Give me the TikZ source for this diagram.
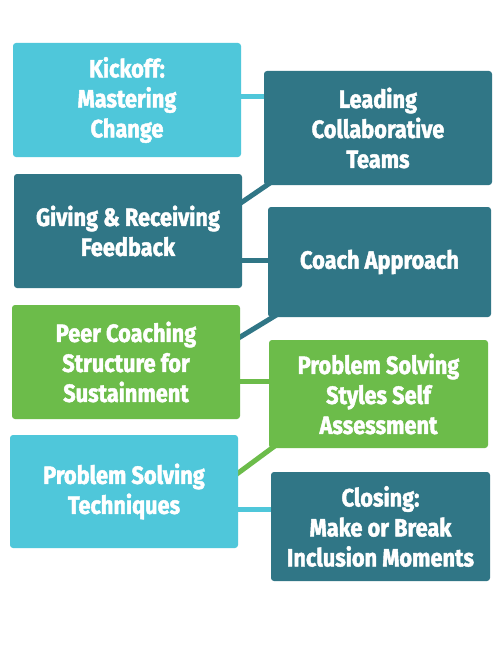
\documentclass[tikz,border=0pt]{standalone}
\usepackage{fontspec}
\setmainfont{Fira Sans}[FakeStretch=0.87, BoldFeatures={FakeBold=1.8}]
\usetikzlibrary{backgrounds}
\definecolor{cyanbox}{HTML}{4FC7DA}
\definecolor{tealbox}{HTML}{307686}
\definecolor{greenbox}{HTML}{6CBC4A}
\tikzset{
  card/.style={rounded corners=3pt, inner sep=0pt, align=center, text=white,
    font=\fontsize{25}{30}\selectfont\bfseries},
  link/.style={line width=5pt, shorten <=-4pt, shorten >=-4pt}
}
\begin{document}
\begin{tikzpicture}[x=1pt,y=1pt]
\useasboundingbox (0,0) rectangle (500,-650);
\node[card, fill=cyanbox, minimum width=228pt, minimum height=114pt] (kick) at (127,-100) {Kickoff:\\Mastering\\Change};
\node[card, fill=tealbox, minimum width=228pt, minimum height=114pt] (lead) at (378,-128) {Leading\\Collaborative\\Teams};
\node[card, fill=tealbox, minimum width=228pt, minimum height=114pt] (give) at (128,-231) {Giving \& Receiving\\Feedback};
\node[card, fill=tealbox, minimum width=223pt, minimum height=110pt] (coach) at (379.5,-262) {Coach Approach};
\node[card, fill=greenbox, minimum width=228pt, minimum height=114pt] (peer) at (126,-362) {Peer Coaching\\Structure for\\Sustainment};
\node[card, fill=greenbox, minimum width=219pt, minimum height=108pt] (styles) at (378.5,-394) {Problem Solving\\Styles Self\\Assessment};
\node[card, fill=cyanbox, minimum width=228pt, minimum height=113pt] (tech) at (124,-491.5) {Problem Solving\\Techniques};
\node[card, fill=tealbox, minimum width=219pt, minimum height=109pt] (close) at (380.5,-526.5) {Closing:\\Make or Break\\Inclusion Moments};
\begin{scope}[on background layer]
\fill[white] (0,0) rectangle (500,-650);
\draw[link, cyanbox] ([yshift=3pt]kick.east) -- ([yshift=31pt]lead.west);
\draw[link, tealbox] ([yshift=29pt]give.east) -- ([xshift=3pt]lead.south west);
\draw[link, tealbox] ([yshift=-29pt]give.east) -- ([yshift=2pt]coach.west);
\draw[link, tealbox] ([yshift=25pt]peer.east) -- ([xshift=5pt]coach.south west);
\draw[link, greenbox] ([yshift=-19pt]peer.east) -- ([yshift=13pt]styles.west);
\draw[link, greenbox] ([yshift=18.5pt]tech.east) -- ([xshift=3pt]styles.south west);
\draw[link, cyanbox] ([yshift=-17.5pt]tech.east) -- ([yshift=17.5pt]close.west);
\end{scope}
\end{tikzpicture}
\end{document}
